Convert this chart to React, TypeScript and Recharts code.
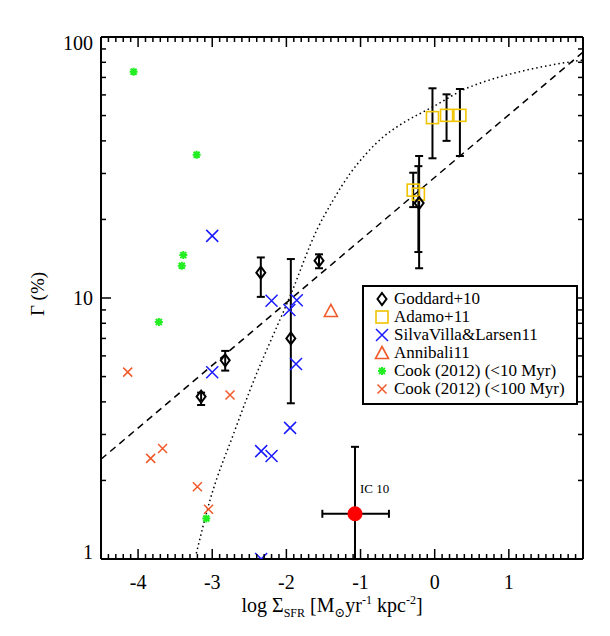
import React from "react";
import {
  ComposedChart,
  XAxis,
  YAxis,
  Scatter,
  Line,
  ErrorBar,
  Label,
} from "recharts";

// ---- data (log Sigma_SFR vs Gamma %) ----
const goddardX = [-3.15, -2.825, -2.345, -1.94, -1.56, -0.21];
const goddardY = [4.19, 5.77, 12.5, 7.0, 13.9, 23.1];
const goddardLo = [3.89, 5.27, 10.1, 3.95, 13.0, 13.0];
const goddardHi = [4.34, 6.27, 14.3, 14.1, 14.7, 35.0];

const adamoX = [-0.29, -0.22, -0.03, 0.16, 0.34];
const adamoY = [25.9, 25.0, 49.1, 50.1, 50.1];
const adamoLo = [22.3, 15.0, 34.3, 40.0, 35.0];
const adamoHi = [30.2, 32.0, 63.6, 60.3, 63.2];

const silvaX = [-3.0, -2.2, -1.86, -1.96, -1.87, -3.0, -1.95, -2.34, -2.2, -2.34];
const silvaY = [17.3, 9.76, 9.8, 9.0, 5.59, 5.19, 3.18, 2.59, 2.48, 1.0];

const annibaliX = [-1.4];
const annibaliY = [8.92];

const cook10X = [-4.06, -3.21, -3.39, -3.41, -3.72, -3.08];
const cook10Y = [73.6, 35.4, 14.6, 13.3, 8.09, 1.43];

const cook100X = [-4.14, -2.76, -3.83, -3.67, -3.2, -3.05];
const cook100Y = [5.2, 4.25, 2.43, 2.65, 1.89, 1.55];

const ic10X = [-1.075];
const ic10Y = [1.49];
const ic10XRange = [-1.515, -0.617];
const ic10YRange = [1.0, 2.69]; // lower end runs into the x axis

// Goddard+10 fit (dashed) and model curve (dotted)
const fitX = [-4.5, 2.0];
const fitY = [2.41, 87.5];
const modelX = [-3.215, -3.03, -2.71, -2.49, -1.93, -1.59, -1.37, -1.14, -0.92, -0.69, -0.47, -0.02, 0.43, 0.61, 1.24, 1.77, 2.0];
const modelY = [1.05, 1.68, 3.03, 4.44, 10.5, 18.2, 23.7, 30.0, 35.8, 41.5, 46.0, 54.1, 63.6, 66.5, 74.7, 79.8, 81.6];

const xMajor = [-4, -3, -2, -1, 0, 1];
const yMajor = [1, 10, 100];

const xTicks: number[] = [];
for (let i = 0; i <= 65; i++) xTicks.push(Math.round((-4.5 + i * 0.1) * 10) / 10);
const yTicks: number[] = [];
[1, 10].forEach((d) => {
  for (let m = 1; m <= 9; m++) yTicks.push(d * m);
});
yTicks.push(100);

const GOLD = "#f0c400";
const BLUE = "#1a1aff";
const ORANGE = "#f05a2a";
const GREEN = "#22ee22";
const FONT = "Liberation Serif, DejaVu Serif, Tinos, serif";

const zip = (xs: number[], ys: number[]) => xs.map((x, i) => ({ x, y: ys[i] }));

const goddard = goddardX.map((x, i) => ({
  x,
  y: goddardY[i],
  ey: [goddardY[i] - goddardLo[i], goddardHi[i] - goddardY[i]],
}));
const adamo = adamoX.map((x, i) => ({
  x,
  y: adamoY[i],
  ey: [adamoY[i] - adamoLo[i], adamoHi[i] - adamoY[i]],
}));
const ic10 = ic10X.map((x, i) => ({
  x,
  y: ic10Y[i],
  ex: [x - ic10XRange[0], ic10XRange[1] - x],
  ey: [ic10Y[i] - ic10YRange[0], ic10YRange[1] - ic10Y[i]],
}));

type Kind = "diamond" | "square" | "cross" | "triangle" | "star" | "smallx";

function marker(kind: Kind, cx: number, cy: number) {
  switch (kind) {
    case "diamond":
      return (
        <path
          d={`M${cx},${cy - 6}L${cx + 4.5},${cy}L${cx},${cy + 6}L${cx - 4.5},${cy}Z`}
          fill="none"
          stroke="#000"
          strokeWidth={2}
        />
      );
    case "square":
      return <rect x={cx - 6} y={cy - 6} width={12} height={12} fill="none" stroke={GOLD} strokeWidth={1.6} />;
    case "cross":
      return (
        <path
          d={`M${cx - 6},${cy - 6}L${cx + 6},${cy + 6}M${cx + 6},${cy - 6}L${cx - 6},${cy + 6}`}
          stroke={BLUE}
          strokeWidth={1.5}
        />
      );
    case "triangle":
      return (
        <path
          d={`M${cx},${cy - 6.5}L${cx + 6.5},${cy + 5.5}L${cx - 6.5},${cy + 5.5}Z`}
          fill="none"
          stroke={ORANGE}
          strokeWidth={1.6}
        />
      );
    case "star":
      return (
        <path
          d={`M${cx - 4},${cy}L${cx + 4},${cy}M${cx},${cy - 4}L${cx},${cy + 4}M${cx - 3},${cy - 3}L${cx + 3},${cy + 3}M${cx + 3},${cy - 3}L${cx - 3},${cy + 3}`}
          stroke={GREEN}
          strokeWidth={2}
        />
      );
    default:
      return (
        <path
          d={`M${cx - 4.5},${cy - 4.5}L${cx + 4.5},${cy + 4.5}M${cx + 4.5},${cy - 4.5}L${cx - 4.5},${cy + 4.5}`}
          stroke={ORANGE}
          strokeWidth={1.5}
        />
      );
  }
}

const shape = (kind: Kind) => (p: any) => <g>{marker(kind, p.cx, p.cy)}</g>;

const ic10Shape = (p: any) => (
  <g>
    <circle cx={p.cx} cy={p.cy} r={7.5} fill="#ff0000" />
    <text x={p.cx + 5} y={p.cy - 21} fontFamily={FONT} fontSize={13} fill="#000">
      IC 10
    </text>
  </g>
);

const isMajor = (v: number) => Number.isInteger(v);

function BottomTick(p: any) {
  const v = p.payload.value;
  const major = isMajor(v) && xMajor.includes(v);
  return (
    <g>
      <line x1={p.x} x2={p.x} y1={p.y} y2={p.y - (major ? 10 : 5)} stroke="#000" strokeWidth={1.5} />
      {major && (
        <text x={p.x} y={p.y + 30} textAnchor="middle" fontFamily={FONT} fontSize={20} fill="#000">
          {v}
        </text>
      )}
    </g>
  );
}

function TopTick(p: any) {
  const v = p.payload.value;
  const major = isMajor(v) && xMajor.includes(v);
  return <line x1={p.x} x2={p.x} y1={p.y} y2={p.y + (major ? 10 : 5)} stroke="#000" strokeWidth={1.5} />;
}

function LeftTick(p: any) {
  const v = p.payload.value;
  const major = yMajor.includes(v);
  const dy = v === 100 ? 13 : v === 1 ? 0 : 6.5;
  return (
    <g>
      <line x1={p.x} x2={p.x + (major ? 10 : 5)} y1={p.y} y2={p.y} stroke="#000" strokeWidth={1.5} />
      {major && (
        <text x={p.x - 8} y={p.y + dy} textAnchor="end" fontFamily={FONT} fontSize={20} fill="#000">
          {v}
        </text>
      )}
    </g>
  );
}

function RightTick(p: any) {
  const v = p.payload.value;
  const major = yMajor.includes(v);
  return <line x1={p.x} x2={p.x - (major ? 10 : 5)} y1={p.y} y2={p.y} stroke="#000" strokeWidth={1.5} />;
}

const legendItems: { kind: Kind; label: string }[] = [
  { kind: "diamond", label: "Goddard+10" },
  { kind: "square", label: "Adamo+11" },
  { kind: "cross", label: "SilvaVilla&Larsen11" },
  { kind: "triangle", label: "Annibali11" },
  { kind: "star", label: "Cook (2012) (<10 Myr)" },
  { kind: "smallx", label: "Cook (2012) (<100 Myr)" },
];

const axisLine = { stroke: "#000", strokeWidth: 2 };

export default function App() {
  return (
    <div style={{ position: "relative", width: 600, height: 620 }}>
      <ComposedChart width={600} height={620} margin={{ top: 19, right: 15, bottom: 29, left: 33 }}>
        <XAxis
          xAxisId={0}
          type="number"
          dataKey="x"
          domain={[-4.5, 2]}
          ticks={xTicks}
          interval={0}
          allowDataOverflow
          height={40}
          tickSize={0}
          tickMargin={0}
          tickLine={false}
          axisLine={axisLine}
          tick={<BottomTick />}
        >
          <Label
            content={() => (
              <text x={324} y={604} textAnchor="middle" fontFamily={FONT} fontSize={20} fill="#000">
                log Σ
                <tspan fontSize={12} dy={5}>SFR</tspan>
                <tspan dy={-5}> [M</tspan>
                <tspan fontSize={13} dy={5}>⊙</tspan>
                <tspan dy={-5}>yr</tspan>
                <tspan fontSize={12} dy={-8}>-1</tspan>
                <tspan dy={8}> kpc</tspan>
                <tspan fontSize={12} dy={-8}>-2</tspan>
                <tspan dy={8}>]</tspan>
              </text>
            )}
          />
        </XAxis>
        <XAxis
          xAxisId="top"
          orientation="top"
          type="number"
          dataKey="x"
          domain={[-4.5, 2]}
          ticks={xTicks}
          interval={0}
          allowDataOverflow
          height={10}
          tickSize={0}
          tickMargin={0}
          tickLine={false}
          axisLine={axisLine}
          tick={<TopTick />}
        />
        <YAxis
          yAxisId={0}
          type="number"
          dataKey="y"
          scale="log"
          domain={[1, 100]}
          ticks={yTicks}
          interval={0}
          allowDataOverflow
          width={60}
          tickSize={0}
          tickMargin={0}
          tickLine={false}
          axisLine={axisLine}
          tick={<LeftTick />}
        >
          <Label
            content={() => (
              <text
                x={29.5}
                y={286}
                transform="rotate(-90 29.5 286)"
                textAnchor="middle"
                dominantBaseline="central"
                fontFamily={FONT}
                fontSize={19}
                fill="#000"
              >
                Γ (%)
              </text>
            )}
          />
        </YAxis>
        <YAxis
          yAxisId="right"
          orientation="right"
          type="number"
          dataKey="y"
          scale="log"
          domain={[1, 100]}
          ticks={yTicks}
          interval={0}
          allowDataOverflow
          width={10}
          tickSize={0}
          tickMargin={0}
          tickLine={false}
          axisLine={axisLine}
          tick={<RightTick />}
        />

        <Line
          data={zip(fitX, fitY)}
          dataKey="y"
          type="linear"
          stroke="#000"
          strokeWidth={1.5}
          strokeDasharray="7 5"
          dot={false}
          isAnimationActive={false}
        />
        <Line
          data={zip(modelX, modelY)}
          dataKey="y"
          type="monotone"
          stroke="#000"
          strokeWidth={1.5}
          strokeDasharray="1.5 3"
          dot={false}
          isAnimationActive={false}
        />

        <Scatter data={zip(cook10X, cook10Y)} shape={shape("star")} isAnimationActive={false} />
        <Scatter data={zip(cook100X, cook100Y)} shape={shape("smallx")} isAnimationActive={false} />
        <Scatter data={zip(silvaX, silvaY)} shape={shape("cross")} isAnimationActive={false} />
        <Scatter data={zip(annibaliX, annibaliY)} shape={shape("triangle")} isAnimationActive={false} />
        <Scatter data={adamo} shape={shape("square")} isAnimationActive={false}>
          <ErrorBar dataKey="ey" direction="y" width={4} stroke="#000" strokeWidth={2} />
        </Scatter>
        <Scatter data={goddard} shape={shape("diamond")} isAnimationActive={false}>
          <ErrorBar dataKey="ey" direction="y" width={4} stroke="#000" strokeWidth={2} />
        </Scatter>
        <Scatter data={ic10} shape={ic10Shape} isAnimationActive={false}>
          <ErrorBar dataKey="ex" direction="x" width={4} stroke="#000" strokeWidth={2} />
          <ErrorBar dataKey="ey" direction="y" width={4} stroke="#000" strokeWidth={2} />
        </Scatter>
      </ComposedChart>

      <div
        style={{
          position: "absolute",
          left: 354,
          top: 277,
          width: 212,
          height: 113,
          border: "2px solid #000",
          background: "#fff",
          fontFamily: FONT,
          fontSize: 17,
          lineHeight: "18px",
          paddingTop: 3,
          boxSizing: "content-box",
        }}
      >
        {legendItems.map((it) => (
          <div key={it.label} style={{ display: "flex", alignItems: "center", height: 18, whiteSpace: "nowrap" }}>
            <svg width={30} height={18} style={{ flex: "none" }}>
              {marker(it.kind, 18, 9)}
            </svg>
            <span>{it.label}</span>
          </div>
        ))}
      </div>
    </div>
  );
}
